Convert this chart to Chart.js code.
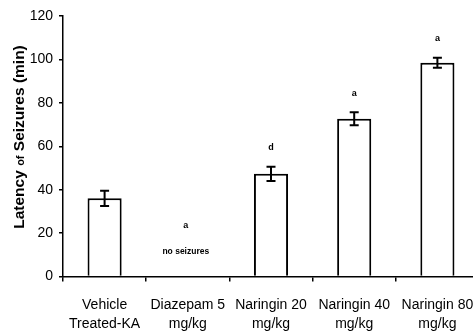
<!DOCTYPE html>
<html>
<head>
<meta charset="utf-8">
<script src="https://cdn.jsdelivr.net/npm/chart.js@4.4.1/dist/chart.umd.min.js"></script>
<style>
    html, body { margin: 0; padding: 0; background: #fff; overflow: hidden; }
    .chart-box { width: 479px; height: 333px; }
</style>
</head>
<body>
<div class="chart-box"><canvas id="latencyChart"></canvas></div>
<script>
const categories = [
    ["Vehicle", "Treated-KA"],
    ["Diazepam 5", "mg/kg"],
    ["Naringin 20", "mg/kg"],
    ["Naringin 40", "mg/kg"],
    ["Naringin 80", "mg/kg"]
];
const latency = [36, 0, 47.3, 72.7, 98.5];
const sem = [3.5, 0, 3.3, 3.0, 2.3];
const sigLetters = ["", "a", "d", "a", "a"];
const noSeizureNote = ["", "no seizures", "", "", ""];
const yTickMax = 120;
const yTickStep = 20;

const fontFamily = "'Liberation Sans', Arial, sans-serif";

// error bars + significance letters on top of the bars
const errorBarPlugin = {
    id: 'errorBars',
    afterDatasetsDraw(chart) {
        const ctx = chart.ctx;
        const y = chart.scales.y;
        const meta = chart.getDatasetMeta(0);
        ctx.save();
        ctx.strokeStyle = '#000';
        ctx.fillStyle = '#000';
        ctx.lineWidth = 2;
        ctx.textAlign = 'center';
        ctx.textBaseline = 'middle';
        meta.data.forEach((bar, i) => {
            const v = latency[i];
            const e = sem[i];
            const x = bar.x;
            if (v > 0) {
                const top = y.getPixelForValue(v + e);
                const bottom = y.getPixelForValue(v - e);
                ctx.beginPath();
                ctx.moveTo(x, top); ctx.lineTo(x, bottom);
                ctx.moveTo(x - 4.5, top); ctx.lineTo(x + 4.5, top);
                ctx.moveTo(x - 4.5, bottom); ctx.lineTo(x + 4.5, bottom);
                ctx.stroke();
                ctx.font = `bold 9px ${fontFamily}`;
                ctx.fillText(sigLetters[i], x, top - 19);
            } else {
                const base = y.getPixelForValue(0);
                ctx.font = `bold 8.5px ${fontFamily}`;
                ctx.fillText(noSeizureNote[i], x - 2, base - 25);
                ctx.font = `bold 9px ${fontFamily}`;
                ctx.fillText(sigLetters[i], x - 2, base - 51);
            }
        });
        ctx.restore();
    }
};

// rotated y title with the small "of"
const yTitlePlugin = {
    id: 'yTitle',
    afterDraw(chart) {
        const ctx = chart.ctx;
        const parts = [
            { t: "Latency ", f: `bold 15.5px ${fontFamily}` },
            { t: "of", f: `bold 11px ${fontFamily}` },
            { t: " Seizures (min)", f: `bold 15.5px ${fontFamily}` }
        ];
        ctx.save();
        let total = 0;
        parts.forEach(p => { ctx.font = p.f; p.w = ctx.measureText(p.t).width; total += p.w; });
        ctx.translate(18, 137);
        ctx.rotate(-Math.PI / 2);
        ctx.fillStyle = '#000';
        ctx.textBaseline = 'alphabetic';
        ctx.textAlign = 'left';
        let cx = -total / 2;
        parts.forEach(p => {
            ctx.font = p.f;
            ctx.fillText(p.t, cx, 6);
            cx += p.w;
        });
        ctx.restore();
    }
};

new Chart(document.getElementById('latencyChart'), {
    type: 'bar',
    data: {
        labels: categories,
        datasets: [{
            data: latency,
            backgroundColor: '#fff',
            borderColor: '#000',
            borderWidth: 2,
            borderSkipped: 'bottom',
            barPercentage: 0.41,
            categoryPercentage: 1
        }]
    },
    options: {
        responsive: true,
        maintainAspectRatio: false,
        animation: false,
        layout: { padding: { top: 16, left: 0, right: 0, bottom: 0 } },
        plugins: {
            legend: { display: false },
            tooltip: { enabled: false }
        },
        scales: {
            x: {
                offset: true,
                grid: { offset: true, drawOnChartArea: false, color: '#000', tickLength: 5, lineWidth: 1.5 },
                border: { color: '#000', width: 1.5 },
                ticks: {
                    color: '#000',
                    font: { family: fontFamily, size: 14, lineHeight: 1.3 },
                    padding: 15,
                    maxRotation: 0,
                    autoSkip: false
                },
                afterFit(scale) {
                    scale.height = 56.5;
                    scale.paddingLeft = 0;
                    scale.paddingRight = 0;
                }
            },
            y: {
                min: 0,
                max: yTickMax,
                grid: { drawOnChartArea: false, color: '#000', tickLength: 4, lineWidth: 1.5 },
                border: { color: '#000', width: 1.5 },
                ticks: {
                    stepSize: yTickStep,
                    color: '#000',
                    font: { family: fontFamily, size: 14 },
                    padding: 6
                },
                afterFit(scale) { scale.width = 63; }
            }
        }
    },
    plugins: [errorBarPlugin, yTitlePlugin]
});
</script>
</body>
</html>
